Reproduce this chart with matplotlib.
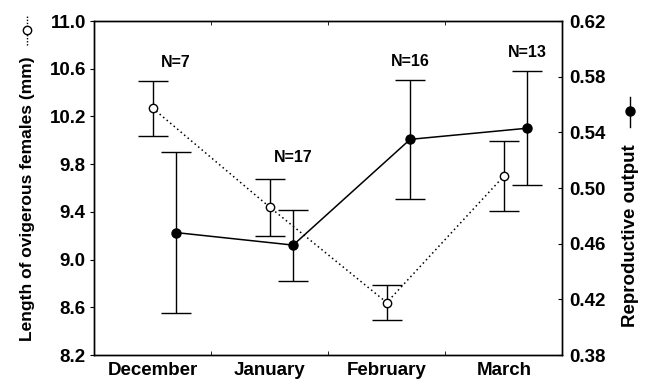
import matplotlib.pyplot as plt
from matplotlib.lines import Line2D

# ========== data ==========
months = ["December", "January", "February", "March"]
sample_sizes = ["N=7", "N=17", "N=16", "N=13"]
label_heights = [10.65, 9.86, 10.66, 10.74]   # N= label position on left axis

length_mean = [10.27, 9.44, 8.64, 9.70]        # mm, open circles
length_err = [0.23, 0.24, 0.145, 0.295]

output_mean = [0.468, 0.459, 0.535, 0.543]     # filled circles
output_err = [0.058, 0.0255, 0.043, 0.041]

plt.rcParams['font.family'] = ['Liberation Sans', 'DejaVu Sans']
plt.rcParams['font.weight'] = 'bold'

fig = plt.figure(figsize=(6.49, 3.83), dpi=100)
ax = fig.add_axes([0.145, 0.073, 0.7215, 0.872])
ax2 = ax.twinx()

x = list(range(len(months)))
x_shift = [i + 0.2 for i in x]

# ovigerous female length - dotted line, open circles
ax.errorbar(x, length_mean, yerr=length_err, color='black', linestyle=(0, (1, 2.0)),
            linewidth=1.1, marker='o', markersize=6, markerfacecolor='white',
            markeredgecolor='black', markeredgewidth=1, ecolor='black',
            elinewidth=1, capsize=10.5, capthick=1, zorder=3)

# reproductive output - solid line, filled circles
ax2.errorbar(x_shift, output_mean, yerr=output_err, color='black', linestyle='-',
             linewidth=1.1, marker='o', markersize=6.5, markerfacecolor='black',
             markeredgecolor='black', ecolor='black', elinewidth=1,
             capsize=10.5, capthick=1, zorder=3)

for xi, txt, h in zip(x_shift, sample_sizes, label_heights):
    ax.text(xi, h, txt, ha='center', va='center', fontsize=11.5, fontweight='bold')

ax.set_xlim(-0.5, 3.5)
ax.set_ylim(8.2, 11.0)
ax2.set_ylim(0.38, 0.62)

ax.set_yticks([8.2, 8.6, 9.0, 9.4, 9.8, 10.2, 10.6, 11.0])
ax.set_yticklabels([f"{v:.1f}" for v in ax.get_yticks()])
ax2.set_yticks([0.38, 0.42, 0.46, 0.50, 0.54, 0.58, 0.62])
ax2.set_yticklabels([f"{v:.2f}" for v in ax2.get_yticks()])

ax.set_xticks(x)
ax.set_xticklabels(months)
ax.set_xticks([0.5, 1.5, 2.5], minor=True)
ax.tick_params(axis='x', which='major', length=0, labelsize=13.5, pad=5)
ax.tick_params(axis='x', which='minor', direction='in', length=3, top=True, bottom=True)
ax.tick_params(axis='y', direction='out', length=3, labelsize=13.5, pad=3)
ax2.tick_params(axis='y', direction='in', length=3, labelsize=13.5, pad=5)

for a in (ax, ax2):
    for s in a.spines.values():
        s.set_linewidth(1)

# axis titles with their series keys
fig.text(0.043, 0.482, "Length of ovigerous females (mm)", rotation=90,
         ha='center', va='center', fontsize=12.5, fontweight='bold')
fig.add_artist(Line2D([0.042, 0.042], [0.883, 0.958], transform=fig.transFigure,
                      color='black', linewidth=1, linestyle=(0, (1, 1.2))))
fig.add_artist(Line2D([0.042], [0.921], transform=fig.transFigure, marker='o',
                      markersize=6, markerfacecolor='white', markeredgecolor='black',
                      markeredgewidth=1))

fig.text(0.972, 0.386, "Reproductive output", rotation=90,
         ha='center', va='center', fontsize=13.5, fontweight='bold')
fig.add_artist(Line2D([0.971, 0.971], [0.668, 0.747], transform=fig.transFigure,
                      color='black', linewidth=1))
fig.add_artist(Line2D([0.971], [0.71], transform=fig.transFigure, marker='o',
                      markersize=6.5, markerfacecolor='black', markeredgecolor='black'))

fig.savefig("out.png", dpi=100)
